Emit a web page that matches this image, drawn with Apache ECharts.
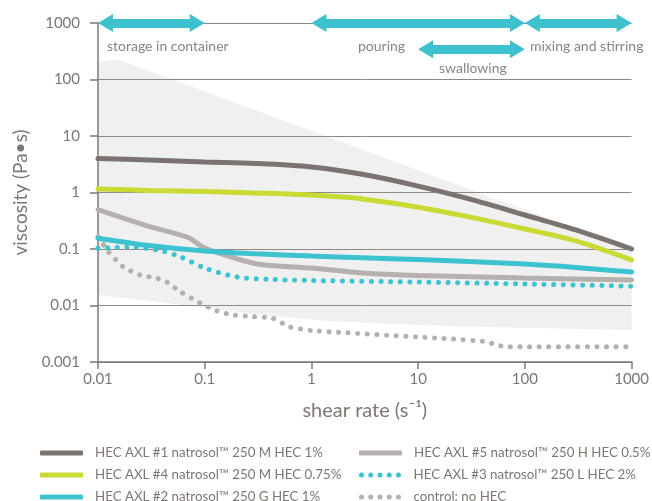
<!DOCTYPE html>
<html><head><meta charset="utf-8">
<script src="https://cdn.jsdelivr.net/npm/echarts@6/dist/echarts.min.js"></script>
<style>html,body{margin:0;padding:0;background:#fff}#c{width:652px;height:501px}</style>
</head><body><div id="c"></div>
<script>
// ---- tick labels ----
const xTicks = [0.01, 0.1, 1, 10, 100, 1000];
const xTickLabels = ['0.01', '0.1', '1', '10', '100', '1000'];
const yTicks = [0.001, 0.01, 0.1, 1, 10, 100, 1000];
const yTickLabels = ['0.001', '0.01', '0.1', '1', '10', '100', '1000'];

// ---- series names ----
const names = [
  'HEC AXL #1 natrosol\u2122 250 M HEC 1%',
  'HEC AXL #4 natrosol\u2122 250 M HEC 0.75%',
  'HEC AXL #2 natrosol\u2122 250 G HEC 1%',
  'HEC AXL #5 natrosol\u2122 250 H HEC 0.5%',
  'HEC AXL #3 natrosol\u2122 250 L HEC 2%',
  'control: no HEC'
];

// ---- series values (shear rate, viscosity) ----
const commonX = [0.01, 0.03, 0.1, 0.3, 1, 3, 10, 30, 100, 300, 1000];
const s1Y = [4.0, 3.76, 3.47, 3.26, 2.83, 2.10, 1.30, 0.77, 0.40, 0.217, 0.10];
const s4Y = [1.15, 1.09, 1.04, 0.98, 0.90, 0.77, 0.55, 0.37, 0.226, 0.139, 0.064];
const s2Y = [0.155, 0.115, 0.092, 0.082, 0.075, 0.070, 0.065, 0.060, 0.054, 0.047, 0.039];
const s5X = [0.01, 0.03, 0.07, 0.1, 0.3, 1, 3, 10, 100, 1000];
const s5Y = [0.50, 0.252, 0.160, 0.104, 0.055, 0.046, 0.0376, 0.034, 0.0307, 0.0283];
const s3X = [0.01, 0.02, 0.04, 0.06, 0.1, 0.2, 0.41, 1, 10, 100, 1000];
const s3Y = [0.103, 0.108, 0.092, 0.072, 0.046, 0.032, 0.029, 0.0277, 0.026, 0.024, 0.022];
const cX = [0.01, 0.0125, 0.0172, 0.0248, 0.0358, 0.0444, 0.0588, 0.0904, 0.130, 0.184, 0.283, 0.435, 0.627, 1, 19.6, 43.5, 54, 67.6, 1000];
const cY = [0.165, 0.0896, 0.0486, 0.0347, 0.0303, 0.026, 0.0176, 0.0111, 0.0080, 0.0068, 0.00634, 0.00593, 0.00416, 0.00361, 0.00257, 0.00229, 0.0020, 0.00187, 0.00187];

// ---- shaded range band ----
const bandUpX = [0.01, 0.015, 1000];
const bandUpY = [200, 230, 0.1];
const bandLoX = [0.01, 0.07, 0.41, 1.48, 19.6, 1000];
const bandLoY = [0.0153, 0.01, 0.0065, 0.0053, 0.0043, 0.0037];

// ---- application ranges (arrows) ----
const rangeLabels = ['storage in container', 'pouring', 'mixing and stirring', 'swallowing'];
const rangeFrom = [0.01, 1, 100, 10];
const rangeTo = [0.1, 100, 1000, 100];
const rangeLevel = [1000, 1000, 1000, 342];

const FONT = 'Lato';
const TXT = '#7d7673';
const AX = '#7f7875';
const C = ['#7b7370', '#c9da35', '#3dc2cf', '#b5b0ad', '#3dc2cf', '#b5b0ad'];

const zip = (xs, ys) => xs.map((x, i) => [x, ys[i]]);
const lab = (ticks, labels) => v => {
  const i = ticks.findIndex(t => Math.abs(Math.log10(t) - Math.log10(v)) < 1e-6);
  return i >= 0 ? labels[i] : '';
};

const inset = Math.pow(10, 7.5 / 107);
const arrowData = rangeFrom.map((f, i) => [
  { coord: [f * inset, rangeLevel[i]] },
  { coord: [rangeTo[i] / inset, rangeLevel[i]] }
]);

function dots(w) {
  let p = 'path://';
  const n = 5, r = 2.5, step = (w - 2 * r) / (n - 1);
  for (let i = 0; i < n; i++) {
    const cx = r + i * step;
    p += `M${cx - r},2.5A${r},${r},0,1,1,${cx + r},2.5A${r},${r},0,1,1,${cx - r},2.5Z`;
  }
  return p;
}

const solid = (i, xs, ys, z, sm) => ({
  name: names[i], type: 'line', data: zip(xs, ys), showSymbol: false, symbol: 'none',
  smooth: sm, color: C[i], z: z, silent: true,
  lineStyle: { color: C[i], width: 5, cap: 'round' }
});
const dotted = (i, xs, ys, z, sm) => ({
  name: names[i], type: 'line', data: zip(xs, ys), showSymbol: false, symbol: 'none',
  smooth: sm, color: C[i], z: z, silent: true,
  lineStyle: { color: C[i], width: 5, type: [0.1, 9.5], cap: 'round' }
});

const legendText = { fontFamily: FONT, fontSize: 13.3, color: TXT, padding: [0, 0, 0, 7], lineHeight: 16, overflow: 'none' };
const dotIcon = dots(42);
const legendPos = [[40, 445], [40, 467], [40, 489], [359, 445], [359, 467], [359, 489]];
const legendIcons = ['roundRect', 'roundRect', 'roundRect', 'roundRect', dotIcon, dotIcon];
const legends = names.map((n, i) => ({
  left: legendPos[i][0], top: legendPos[i][1], padding: 0, orient: 'horizontal',
  itemWidth: 43, itemHeight: 5, selectedMode: false, textStyle: legendText,
  itemStyle: { borderWidth: 0 },
  data: [{ name: n, icon: legendIcons[i] }]
}));

const annFont = `14px ${FONT}`;
const annPos = [[107, 46], [358, 46], [530, 46], [439, 68]];

const chart = echarts.init(document.getElementById('c'), null, { renderer: 'canvas' });
chart.setOption({
  animation: false,
  backgroundColor: '#fff',
  grid: { left: 98, right: 19, top: 23, bottom: 139, containLabel: false },
  xAxis: {
    type: 'log', logBase: 10, min: 0.01, max: 1000, z: 1,
    name: 'shear rate (s\u207B\u00B9)', nameLocation: 'middle', nameGap: 39,
    nameTextStyle: { fontFamily: FONT, fontSize: 20, color: TXT },
    axisLine: { lineStyle: { color: AX, width: 1.5 } },
    axisTick: { show: true, length: 7, lineStyle: { color: AX, width: 1.5 } },
    minorTick: { show: false },
    splitLine: { show: false },
    axisLabel: { margin: 10, fontFamily: FONT, fontSize: 15, color: TXT, formatter: lab(xTicks, xTickLabels) }
  },
  yAxis: {
    type: 'log', logBase: 10, min: 0.001, max: 1000, z: 1,
    name: 'viscosity (Pa\u2022s)', nameLocation: 'middle', nameGap: 68, nameRotate: 90,
    nameTextStyle: { fontFamily: FONT, fontSize: 19, color: TXT },
    axisLine: { lineStyle: { color: AX, width: 1.5 } },
    axisTick: { show: true, length: 8, lineStyle: { color: AX, width: 1.5 } },
    splitLine: { show: true, lineStyle: { color: '#8f8885', width: 1 } },
    axisLabel: { margin: 18, fontFamily: FONT, fontSize: 15, color: TXT, formatter: lab(yTicks, yTickLabels) }
  },
  legend: legends,
  graphic: rangeLabels.map((t, i) => ({
    type: 'text', x: annPos[i][0], y: annPos[i][1], silent: true,
    style: { text: t, fill: '#8a8380', font: annFont, verticalAlign: 'middle' }
  })),
  series: [
    {
      type: 'custom', name: 'band', z: -1, silent: true, data: [[1, 1]],
      renderItem: (params, api) => {
        const pts = [];
        bandUpX.forEach((x, i) => pts.push(api.coord([x, bandUpY[i]])));
        for (let i = bandLoX.length - 1; i >= 0; i--) pts.push(api.coord([bandLoX[i], bandLoY[i]]));
        return { type: 'polygon', shape: { points: pts }, style: { fill: '#f0f0f0' } };
      }
    },
    dotted(5, cX, cY, 2, 0.2),
    dotted(4, s3X, s3Y, 3, 0.3),
    solid(3, s5X, s5Y, 4, 0.25),
    solid(0, commonX, s1Y, 5, 0.3),
    solid(1, commonX, s4Y, 6, 0.3),
    solid(2, commonX, s2Y, 7, 0.3),
    {
      type: 'line', name: 'ranges', data: [], silent: true, z: 8,
      markLine: {
        silent: true, animation: false,
        symbol: ['triangle', 'triangle'], symbolSize: [18, 15],
        lineStyle: { color: '#3ec1ce', width: 9, type: 'solid' },
        itemStyle: { color: '#3ec1ce' },
        label: { show: false },
        emphasis: { disabled: true },
        data: arrowData
      }
    }
  ]
});
</script>
</body></html>
